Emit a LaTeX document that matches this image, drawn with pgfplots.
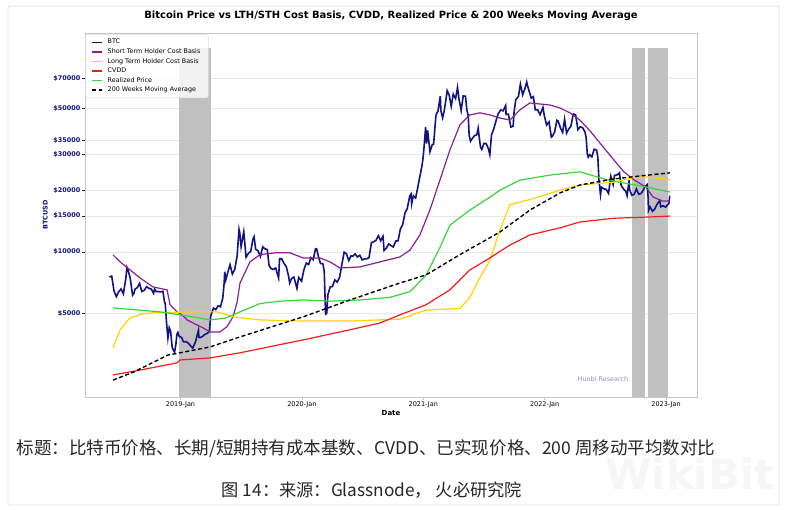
\documentclass[border=0pt]{standalone}
\usepackage{pgfplots}
\pgfplotsset{compat=1.18}
\usepackage{fontspec}
\setmainfont{DejaVu Sans}
\newfontfamily\cjk{Noto Sans CJK SC}
\definecolor{btcblue}{RGB}{18,18,130}
\definecolor{lblue}{RGB}{20,20,120}
\definecolor{sthpurple}{RGB}{140,30,150}
\definecolor{lthgold}{RGB}{255,210,0}
\definecolor{cvddred}{RGB}{240,30,30}
\definecolor{rpgreen}{RGB}{60,210,60}
\definecolor{shade}{RGB}{192,192,192}
\definecolor{huobi}{RGB}{140,140,205}
\begin{document}
\begin{tikzpicture}
\path[use as bounding box] (0bp,0bp) rectangle (786bp,510bp);
\draw[gray!25, line width=0.8bp, rounded corners=2bp] (8bp,5bp) rectangle (779bp,504bp);
\node[text=gray!7, font=\bfseries\fontsize{42}{42}\selectfont] at (690bp,36bp) {WikiBit};
\node[font=\bfseries\fontsize{10}{11}\selectfont] at (391bp,494bp) {Bitcoin Price vs LTH/STH Cost Basis, CVDD, Realized Price \& 200 Weeks Moving Average};
\begin{axis}[
  at={(85bp,113bp)}, anchor=south west, scale only axis,
  width=612bp, height=364bp,
  ymode=log,
  xmin=2018.213, xmax=2023.255, ymin=1960, ymax=117000,
  ytick={5000,10000,15000,20000,30000,35000,50000,70000},
  yticklabels={\$5000,\$10000,\$15000,\$20000,\$30000,\$35000,\$50000,\$70000},
  xtick={2019,2020,2021,2022,2023},
  xticklabels={2019-Jan,2020-Jan,2021-Jan,2022-Jan,2023-Jan},
  ytick pos=left, xtick pos=bottom,
  yminorticks=false,
  ymajorgrids, grid style={gray!18, line width=0.6bp},
  axis line style={gray!45, line width=0.8bp},
  tick align=outside, major tick length=3bp,
  ytick style={lblue, line width=0.6bp},
  xtick style={gray!50, line width=0.6bp},
  yticklabel style={font=\bfseries\fontsize{6.5}{7}\selectfont, text=lblue, inner sep=1.5bp},
  xticklabel style={font=\fontsize{6.5}{7}\selectfont, inner sep=1.5bp},
  xlabel={Date}, xlabel style={font=\bfseries\fontsize{7}{8}\selectfont, at={(axis description cs:0.5,0)}, anchor=center, yshift=-16bp},
  ylabel={BTCUSD}, ylabel style={font=\bfseries\fontsize{6.5}{7}\selectfont, text=lblue, at={(axis description cs:-0.065,0.5)}, anchor=center},
  legend style={at={(0,1)}, anchor=north west, xshift=0.5bp, yshift=-1.5bp,
    font=\fontsize{6.4}{7}\selectfont, draw=gray!30, fill=white, fill opacity=0.8, text opacity=1,
    rounded corners=1.5bp, row sep=-0.7bp, inner xsep=6bp, inner ysep=2.5bp},
  legend cell align=left,
  legend image code/.code={\draw[#1, line width=1.5bp] (0bp,0bp) -- (10bp,0bp); \path (12.5bp,0bp);},
  clip=true,
]
\addplot[fill=shade, draw=none, forget plot] coordinates {(2018.99,1900) (2018.99,98900) (2019.25,98900) (2019.25,1900)} -- cycle;
\addplot[fill=shade, draw=none, forget plot] coordinates {(2022.72,1900) (2022.72,98900) (2022.83,98900) (2022.83,1900)} -- cycle;
\addplot[fill=shade, draw=none, forget plot] coordinates {(2022.85,1900) (2022.85,98900) (2023.02,98900) (2023.02,1900)} -- cycle;
% BTC
\addplot[btcblue, line width=1.6bp] coordinates {
(2018.414,7540)(2018.433,7620)(2018.452,6450)(2018.471,6050)(2018.490,6380)(2018.510,6600)(2018.529,6240)(2018.548,7330)(2018.559,8400)(2018.567,8200)(2018.586,7420)(2018.605,6150)(2018.616,6270)(2018.625,6580)(2018.644,6700)(2018.663,7030)(2018.677,6520)(2018.682,6410)(2018.701,6500)(2018.721,6770)(2018.740,6640)(2018.759,6590)(2018.778,6280)(2018.786,6600)(2018.797,6410)(2018.816,6410)(2018.836,6380)(2018.855,6420)(2018.868,5700)(2018.874,5600)(2018.885,4500)(2018.896,3800)(2018.907,4270)(2018.918,4100)(2018.932,3400)(2018.951,3250)(2018.962,3550)(2018.970,3960)(2018.978,4050)(2018.989,3870)
(2019.008,3830)(2019.025,3640)(2019.047,3650)(2019.066,3580)(2019.085,3470)(2019.101,3400)(2019.123,3640)(2019.148,4150)(2019.151,3830)(2019.162,3820)(2019.181,3870)(2019.200,3960)(2019.219,4000)(2019.238,4100)(2019.249,4880)(2019.271,5320)(2019.290,5230)(2019.310,5460)(2019.329,5400)(2019.348,5940)(2019.359,7000)(2019.364,8000)(2019.373,7300)(2019.392,8050)(2019.408,8660)(2019.427,7800)(2019.447,8230)(2019.466,9530)(2019.482,12900)(2019.488,12400)(2019.499,10600)(2019.521,12570)(2019.540,9420)(2019.560,9850)(2019.579,10080)(2019.595,11460)(2019.606,11860)(2019.619,10300)(2019.638,10140)(2019.658,9500)(2019.677,10580)(2019.696,10350)(2019.715,10270)(2019.729,8600)(2019.745,8300)(2019.764,8210)(2019.784,8350)(2019.808,7460)(2019.816,9260)(2019.833,9260)(2019.852,8800)(2019.871,8480)(2019.890,7630)(2019.899,7050)(2019.915,7420)(2019.934,7540)(2019.959,6640)(2019.973,7510)(2019.997,7200)
(2020.016,8160)(2020.036,8830)(2020.055,8680)(2020.074,9380)(2020.093,9160)(2020.112,10350)(2020.121,10360)(2020.134,9600)(2020.153,8780)(2020.173,8760)(2020.184,8040)(2020.195,4970)(2020.205,5020)(2020.214,6190)(2020.233,6730)(2020.252,6800)(2020.271,7300)(2020.290,7120)(2020.310,7500)(2020.329,8660)(2020.348,9970)(2020.367,9790)(2020.386,9080)(2020.405,9570)(2020.419,9530)(2020.438,9780)(2020.458,9450)(2020.477,9630)(2020.496,9140)(2020.515,9250)(2020.534,9250)(2020.553,9390)(2020.573,11110)(2020.592,11210)(2020.611,11400)(2020.630,11990)(2020.649,11330)(2020.668,11920)(2020.677,10160)(2020.696,10440)(2020.715,10940)(2020.734,10740)(2020.753,10570)(2020.773,11300)(2020.792,11320)(2020.811,12930)(2020.830,13560)(2020.849,15480)(2020.868,16300)(2020.888,18680)(2020.899,19170)(2020.904,17150)(2020.918,18790)(2020.937,18320)(2020.959,21310)(2020.975,23820)(2020.989,26300)(2020.999,29000)
(2021.007,32800)(2021.019,40580)(2021.027,33800)(2021.036,39150)(2021.055,30800)(2021.074,33400)(2021.085,33500)(2021.104,46400)(2021.121,48700)(2021.140,57500)(2021.145,48900)(2021.159,45100)(2021.173,48900)(2021.197,61200)(2021.214,58000)(2021.230,51300)(2021.247,58800)(2021.266,56000)(2021.282,63500)(2021.293,56200)(2021.312,49000)(2021.329,57800)(2021.348,57400)(2021.359,49200)(2021.370,46400)(2021.378,37000)(2021.389,34700)(2021.403,35700)(2021.422,36900)(2021.441,37300)(2021.452,40200)(2021.471,32500)(2021.482,31600)(2021.499,33800)(2021.518,33800)(2021.537,31800)(2021.548,29800)(2021.562,37300)(2021.581,39900)(2021.600,43800)(2021.616,47100)(2021.638,49300)(2021.658,48800)(2021.679,51800)(2021.682,46800)(2021.701,47000)(2021.721,40700)(2021.740,41000)(2021.748,48100)(2021.762,55300)(2021.784,57400)(2021.800,65900)(2021.819,58400)(2021.838,62900)(2021.852,67500)(2021.858,64900)(2021.874,60300)(2021.890,56300)(2021.907,57200)(2021.923,49300)(2021.942,49400)(2021.962,46700)(2021.986,50700)(2021.997,46300)
(2022.016,41600)(2022.036,43100)(2022.055,36300)(2022.063,36600)(2022.082,38500)(2022.101,43900)(2022.110,43600)(2022.132,40000)(2022.148,38300)(2022.164,44400)(2022.181,38000)(2022.197,39700)(2022.216,41000)(2022.236,47100)(2022.255,46600)(2022.274,39500)(2022.293,40800)(2022.312,40400)(2022.332,38500)(2022.342,36000)(2022.351,30100)(2022.359,29000)(2022.370,29800)(2022.389,29100)(2022.408,31700)(2022.427,31400)(2022.438,29100)(2022.447,22500)(2022.460,19000)(2022.468,20700)(2022.488,20300)(2022.507,20200)(2022.526,19300)(2022.545,23400)(2022.564,21300)(2022.575,23600)(2022.600,23800)(2022.616,24300)(2022.630,21100)(2022.649,20300)(2022.668,19800)(2022.679,18800)(2022.696,22400)(2022.699,20200)(2022.718,18900)(2022.737,19100)(2022.756,20300)(2022.775,19100)(2022.795,19300)(2022.814,20100)(2022.825,20800)(2022.844,21300)(2022.852,18500)(2022.855,15900)(2022.868,16600)(2022.888,15800)(2022.907,16200)(2022.926,17100)(2022.948,17800)(2022.956,16600)(2022.975,16800)(2022.997,16550)
(2023.008,16850)(2023.019,17100)(2023.025,17400)(2023.030,18800)
};
\addlegendentry{BTC}
% STH
\addplot[sthpurple, line width=1.2bp] coordinates {
(2018.444,9670)(2018.502,8940)(2018.584,8170)(2018.666,7470)(2018.773,6750)(2018.889,6530)(2018.914,5520)(2018.971,5100)(2019.012,4930)(2019.054,4660)(2019.136,4400)(2019.185,4260)(2019.243,4070)(2019.325,4070)(2019.383,4320)(2019.432,4820)(2019.465,5640)(2019.490,7050)(2019.572,8940)(2019.655,9700)(2019.778,9900)(2019.902,9900)(2020.009,9350)(2020.149,9350)(2020.231,8940)(2020.314,8350)(2020.478,8450)(2020.643,8940)(2020.807,9450)(2020.890,10200)(2020.972,12100)(2021.054,16000)(2021.137,22400)(2021.219,31400)(2021.302,41700)(2021.384,46600)(2021.467,47700)(2021.549,46600)(2021.631,45000)(2021.714,44000)(2021.796,49300)(2021.878,53300)(2022.043,52100)(2022.126,50400)(2022.208,47700)(2022.290,44000)(2022.373,39000)(2022.455,34000)(2022.570,28100)(2022.652,24600)(2022.735,22500)(2022.834,20700)(2022.892,18560)(2022.966,17730)(2023.032,17730)
};
\addlegendentry{Short Term Holder Cost Basis}
% LTH
\addplot[lthgold, line width=1.2bp] coordinates {
(2018.444,3400)(2018.502,4170)(2018.584,4760)(2018.691,4990)(2018.773,5050)(2019.161,5100)(2019.301,5100)(2019.432,4820)(2019.655,4660)(2020.009,4600)(2020.396,4600)(2020.807,4700)(2021.022,5200)(2021.302,5300)(2021.384,6000)(2021.467,7500)(2021.549,9100)(2021.631,12800)(2021.714,17000)(2021.878,18000)(2022.126,20000)(2022.290,21200)(2022.570,21900)(2022.751,23200)(2022.850,23200)(2023.032,22500)
};
\addlegendentry{Long Term Holder Cost Basis}
% CVDD
\addplot[cvddred, line width=1.2bp] coordinates {
(2018.444,2510)(2018.666,2650)(2018.971,2875)(2018.996,2970)(2019.243,3040)(2019.490,3220)(2019.737,3450)(2020.009,3720)(2020.396,4170)(2020.643,4500)(2020.807,4930)(2021.022,5520)(2021.219,6530)(2021.384,8170)(2021.549,9350)(2021.714,10800)(2021.878,12100)(2022.126,13100)(2022.290,14000)(2022.570,14600)(2022.850,14800)(2023.032,14960)
};
\addlegendentry{CVDD}
% Realized
\addplot[rpgreen, line width=1.2bp] coordinates {
(2018.444,5330)(2018.666,5200)(2018.831,5100)(2018.996,4930)(2019.161,4750)(2019.243,4660)(2019.367,4750)(2019.490,5100)(2019.655,5600)(2019.820,5750)(2020.009,5830)(2020.231,5750)(2020.478,5830)(2020.725,6000)(2020.890,6400)(2021.022,7700)(2021.137,10500)(2021.219,13500)(2021.384,16000)(2021.549,18500)(2021.631,20000)(2021.796,22400)(2022.043,23700)(2022.290,24600)(2022.512,22500)(2022.652,21700)(2022.825,20800)(2023.032,19600)
};
\addlegendentry{Realized Price}
% 200WMA
\addplot[black, line width=1.4bp, dash pattern=on 4bp off 2.5bp] coordinates {
(2018.444,2370)(2018.617,2600)(2018.897,3140)(2018.996,3220)(2019.243,3440)(2019.490,3850)(2020.009,4820)(2020.396,5830)(2020.807,7050)(2021.022,7720)(2021.302,9700)(2021.631,12500)(2021.878,16000)(2022.126,19400)(2022.290,21200)(2022.570,22700)(2022.850,23700)(2023.032,24300)
};
\addlegendentry{200 Weeks Moving Average}
\end{axis}
\node[text=huobi, font=\fontsize{6.5}{7}\selectfont] at (603bp,131bp) {Huobi Research};
\node[font=\cjk\fontsize{17.6}{18}\selectfont, text=black!85] at (366bp,61bp) {标题：比特币价格、长期/短期持有成本基数、CVDD、已实现价格、200 周移动平均数对比};
\node[font=\cjk\fontsize{17.3}{18}\selectfont, text=black!85] at (372bp,20bp) {图 14：来源：Glassnode， 火必研究院};
\end{tikzpicture}
\end{document}
